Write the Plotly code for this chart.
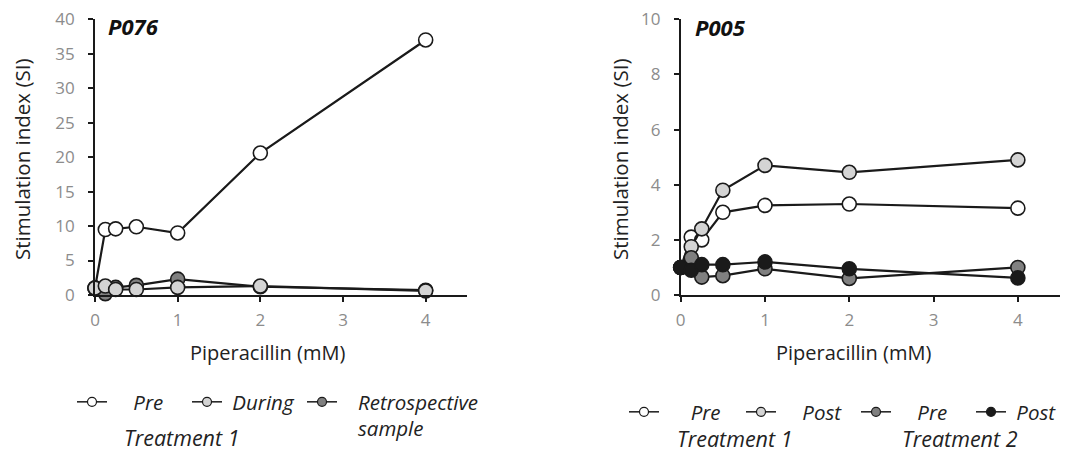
import plotly.graph_objects as go

# ---------------- data ----------------
conc = [0, 0.125, 0.25, 0.5, 1, 2, 4]

# P076
p076_pre = [1.0, 9.5, 9.6, 9.9, 9.0, 20.6, 37.0]
p076_during = [1.0, 1.3, 0.8, 0.8, 1.1, 1.3, 0.6]
p076_retro = [1.0, 0.2, 1.1, 1.4, 2.3, 1.2, 0.7]

# P005
p005_pre_t1 = [1.0, 2.1, 2.0, 3.0, 3.25, 3.3, 3.15]
p005_post_t1 = [1.0, 1.75, 2.4, 3.8, 4.7, 4.45, 4.9]
p005_pre_t2 = [1.0, 1.35, 0.65, 0.7, 0.95, 0.6, 1.0]
p005_post_t2 = [1.0, 0.9, 1.1, 1.1, 1.2, 0.95, 0.62]

x_ticks = [0, 1, 2, 3, 4]
left_y_ticks = [0, 5, 10, 15, 20, 25, 30, 35, 40]
right_y_ticks = [0, 2, 4, 6, 8, 10]

WHITE = "#ffffff"
LIGHT = "#d4d4d4"
DARK = "#808080"
BLACK = "#1a1a1a"
LINE = "#1a1a1a"
FONT = "Open Sans"
NB = "\u00a0"

# page body has an 8px margin; size the figure to fill the rest of the window
OFF = 8
W, H = 1079 - OFF, 452 - OFF

fig = go.Figure()


def px(v):
    return (v - OFF) / W


def py(v):
    return 1 - (v - OFF) / H


def add(x, y, color, xa, ya):
    fig.add_trace(go.Scatter(
        x=x, y=y, mode="lines+markers", showlegend=False,
        xaxis=xa, yaxis=ya,
        line=dict(color=LINE, width=2.2),
        marker=dict(size=14, color=color, line=dict(color=LINE, width=1.6)),
        cliponaxis=False, hoverinfo="x+y",
    ))


def legend_entry(name, color, legend_id, xa, ya):
    # empty trace used only as a legend key (small marker like the reference)
    fig.add_trace(go.Scatter(
        x=[None], y=[None], mode="lines+markers", name=name, showlegend=True,
        legend=legend_id, xaxis=xa, yaxis=ya,
        line=dict(color=LINE, width=1.5),
        marker=dict(size=9, color=color, line=dict(color=LINE, width=1.2)),
    ))


# left: draw order Pre, Retrospective, During (During on top)
add(conc, p076_pre, WHITE, "x", "y")
add(conc, p076_retro, DARK, "x", "y")
add(conc, p076_during, LIGHT, "x", "y")

# right
add(conc, p005_pre_t1, WHITE, "x2", "y2")
add(conc, p005_post_t1, LIGHT, "x2", "y2")
add(conc, p005_pre_t2, DARK, "x2", "y2")
add(conc, p005_post_t2, BLACK, "x2", "y2")

# legend keys: (name, colour, marker centre px, text row centre px, axes)
legend_items = [
    (NB * 4 + "Pre", WHITE, 93, 403, "x", "y"),
    (NB * 1 + "During", LIGHT, 208, 403, "x", "y"),
    (NB * 3 + "Retrospective<br>" + NB * 3 + "sample", DARK, 323, 403, "x", "y"),
    (NB * 5 + "Pre", WHITE, 645, 413, "x2", "y2"),
    (NB * 4 + "Post", LIGHT, 762, 413, "x2", "y2"),
    (NB * 4 + "Pre", DARK, 877, 413, "x2", "y2"),
    (NB * 1 + "Post", BLACK, 992, 413, "x2", "y2"),
]

legend_layout = {}
for i, (name, color, mx, ty, xa, ya) in enumerate(legend_items):
    lid = "legend" if i == 0 else f"legend{i + 1}"
    legend_entry(name, color, lid, xa, ya)
    legend_layout[lid] = dict(
        x=px(mx - 21), y=py(ty - 21), xanchor="left", yanchor="top",
        font=dict(family=FONT, size=20.5, style="italic", color="#222222"),
        valign="top", bgcolor="rgba(0,0,0,0)", borderwidth=0,
    )

axis_common = dict(
    showline=True, linecolor=LINE, linewidth=1.6,
    ticks="outside", ticklen=5, tickwidth=1.5, tickcolor=LINE,
    showgrid=False, zeroline=False, automargin=False,
    ticklabeloverflow="allow",
    tickfont=dict(family=FONT, size=17, color="#8c8c8c"),
)

fig.update_layout(
    width=W, height=H,
    margin=dict(l=0, r=0, t=0, b=0, pad=0, autoexpand=False),
    paper_bgcolor="white", plot_bgcolor="white",
    font=dict(family=FONT, color="#222222"),
    xaxis=dict(domain=[px(95), px(467)], range=[0, 4.5], anchor="y",
               tickvals=x_ticks, ticklabelstandoff=4, **axis_common),
    yaxis=dict(domain=[py(295), py(19.3)], range=[0, 40], anchor="x",
               tickvals=left_y_ticks, ticklabelstandoff=10, **axis_common),
    xaxis2=dict(domain=[px(680.7), px(1060)], range=[0, 4.5], anchor="y2",
                tickvals=x_ticks, ticklabelstandoff=4, **axis_common),
    yaxis2=dict(domain=[py(295), py(19.3)], range=[0, 10], anchor="x2",
                tickvals=right_y_ticks, ticklabelstandoff=10, **axis_common),
    showlegend=True,
    **legend_layout,
)

ann = []
# panel titles
ann.append(dict(text="<b><i>P076</i></b>", x=px(106), y=py(26), xref="paper", yref="paper",
                xanchor="left", yanchor="middle", showarrow=False,
                font=dict(family=FONT, size=22, color="#111111")))
ann.append(dict(text="<b><i>P005</i></b>", x=px(693), y=py(27), xref="paper", yref="paper",
                xanchor="left", yanchor="middle", showarrow=False,
                font=dict(family=FONT, size=22, color="#111111")))
# axis titles
for xc, yc in [(22, 160), (620, 160)]:
    ann.append(dict(text="Stimulation index (SI)", x=px(xc), y=py(yc), xref="paper", yref="paper",
                    xanchor="center", yanchor="middle", textangle=-90, showarrow=False,
                    font=dict(family=FONT, size=20.5, color="#222222")))
for xc in [267, 853]:
    ann.append(dict(text="Piperacillin (mM)", x=px(xc), y=py(352), xref="paper", yref="paper",
                    xanchor="center", yanchor="middle", showarrow=False,
                    font=dict(family=FONT, size=20, color="#222222")))
# treatment group labels
for xc, yc, t in [(182, 437, "Treatment 1"), (735, 438, "Treatment 1"), (960, 438, "Treatment 2")]:
    ann.append(dict(text="<i>" + t + "</i>", x=px(xc), y=py(yc), xref="paper", yref="paper",
                    xanchor="center", yanchor="middle", showarrow=False,
                    font=dict(family=FONT, size=21.5, color="#222222")))
fig.update_layout(annotations=ann)

fig.write_html("out.html")
